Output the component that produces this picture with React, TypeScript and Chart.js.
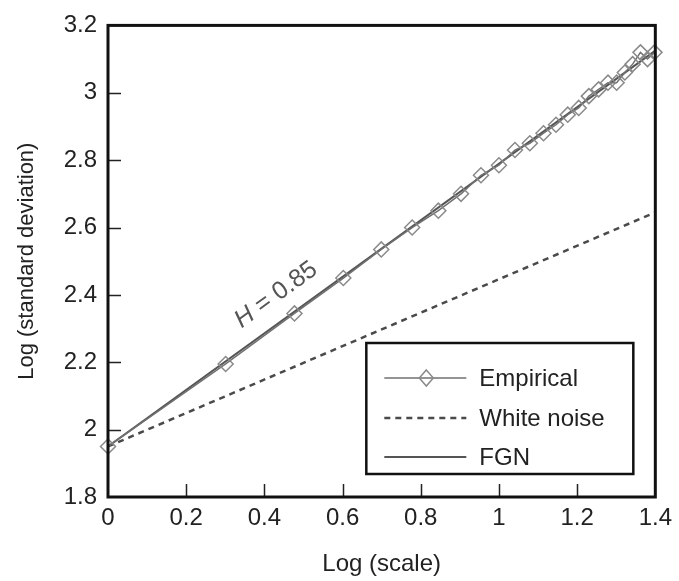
import React, { useEffect, useRef } from "react";
import { Chart, registerables } from "chart.js";

Chart.register(...registerables);

// Data
const empiricalX = [0, 0.301, 0.477, 0.602, 0.699, 0.778, 0.845, 0.903, 0.954, 1.0, 1.041, 1.079, 1.114, 1.146, 1.176, 1.204, 1.23, 1.255, 1.279, 1.301, 1.322, 1.342, 1.362, 1.38, 1.398];
const empiricalY = [1.95, 2.195, 2.345, 2.45, 2.535, 2.6, 2.65, 2.7, 2.755, 2.785, 2.83, 2.85, 2.88, 2.905, 2.935, 2.955, 2.99, 3.01, 3.03, 3.03, 3.06, 3.085, 3.12, 3.1, 3.12];
const lineX = [0, 1.4];
const whiteNoiseY = [1.95, 2.645];
const fgnY = [1.95, 3.125];
const xTicks = [0, 0.2, 0.4, 0.6, 0.8, 1, 1.2, 1.4];
const xTickLabels = ["0", "0.2", "0.4", "0.6", "0.8", "1", "1.2", "1.4"];
const yTicks = [1.8, 2, 2.2, 2.4, 2.6, 2.8, 3, 3.2];
const yTickLabels = ["1.8", "2", "2.2", "2.4", "2.6", "2.8", "3", "3.2"];
const seriesNames = ["Empirical", "White noise", "FGN"];
const annotationText = ["H", " = 0.85"];
const annotationPos = { x: 0.43, y: 2.4 };

const FONT = "'Liberation Sans', Arial, Helvetica, sans-serif";
const FS = 24;

const framePlugin = {
  id: "framePlugin",
  afterDraw(chart: any) {
    const { ctx, chartArea: a, scales } = chart;
    const xs = scales.x;
    const ys = scales.y;
    ctx.save();
    // inward ticks
    ctx.strokeStyle = "#222";
    ctx.lineWidth = 1.5;
    ctx.beginPath();
    yTicks.slice(1, -1).forEach((v) => {
      const py = Math.round(ys.getPixelForValue(v)) + 0.5;
      ctx.moveTo(a.left, py);
      ctx.lineTo(a.left + 13, py);
    });
    xTicks.slice(1, -1).forEach((v) => {
      const px = Math.round(xs.getPixelForValue(v)) + 0.5;
      ctx.moveTo(px, a.bottom);
      ctx.lineTo(px, a.bottom - 13);
    });
    ctx.stroke();
    // frame
    ctx.strokeStyle = "#111";
    ctx.lineWidth = 3;
    ctx.strokeRect(a.left, a.top, a.right - a.left, a.bottom - a.top);

    // annotation H = 0.85
    const x0 = xs.getPixelForValue(lineX[0]);
    const x1 = xs.getPixelForValue(lineX[1]);
    const y0 = ys.getPixelForValue(fgnY[0]);
    const y1 = ys.getPixelForValue(fgnY[1]);
    const ang = Math.atan2(y1 - y0, x1 - x0);
    const cx = xs.getPixelForValue(annotationPos.x);
    const cy = ys.getPixelForValue(annotationPos.y);
    ctx.translate(cx, cy);
    ctx.rotate(ang);
    ctx.fillStyle = "#555";
    ctx.textBaseline = "middle";
    ctx.textAlign = "left";
    const fItal = `italic 25px ${FONT}`;
    const fNorm = `25px ${FONT}`;
    ctx.font = fItal;
    const w1 = ctx.measureText(annotationText[0]).width;
    ctx.font = fNorm;
    const w2 = ctx.measureText(annotationText[1]).width;
    const start = -(w1 + w2) / 2;
    ctx.font = fItal;
    ctx.fillText(annotationText[0], start, 0);
    ctx.font = fNorm;
    ctx.fillText(annotationText[1], start + w1, 0);
    ctx.restore();

    // legend
    ctx.save();
    const lx = a.right - 289;
    const ly = a.bottom - 154;
    const lw = 267;
    const lh = 131;
    ctx.fillStyle = "#fff";
    ctx.fillRect(lx, ly, lw, lh);
    ctx.strokeStyle = "#111";
    ctx.lineWidth = 2.5;
    ctx.strokeRect(lx, ly, lw, lh);
    const rows = [35, 75, 114];
    const ds = chart.data.datasets;
    rows.forEach((ry, i) => {
      const d = ds[i];
      const yy = ly + ry;
      ctx.strokeStyle = d.borderColor;
      ctx.lineWidth = d.borderWidth;
      ctx.setLineDash(d.borderDash || []);
      ctx.beginPath();
      ctx.moveTo(lx + 18, yy);
      ctx.lineTo(lx + 100, yy);
      ctx.stroke();
      ctx.setLineDash([]);
      if (i === 0) {
        const mx = lx + 60;
        const r = 7;
        ctx.strokeStyle = d.pointBorderColor;
        ctx.lineWidth = d.pointBorderWidth;
        ctx.beginPath();
        ctx.moveTo(mx, yy - r - 1);
        ctx.lineTo(mx + r, yy);
        ctx.lineTo(mx, yy + r + 1);
        ctx.lineTo(mx - r, yy);
        ctx.closePath();
        ctx.stroke();
      }
      ctx.fillStyle = "#222";
      ctx.font = `${FS}px ${FONT}`;
      ctx.textBaseline = "middle";
      ctx.textAlign = "left";
      ctx.fillText(seriesNames[i], lx + 113, yy + 1);
    });
    ctx.restore();
  },
};

export default function App() {
  const ref = useRef<HTMLCanvasElement>(null);
  useEffect(() => {
    if (!ref.current) return;
    const chart = new Chart(ref.current, {
      type: "scatter",
      data: {
        datasets: [
          {
            label: seriesNames[0],
            data: empiricalX.map((x, i) => ({ x, y: empiricalY[i] })),
            showLine: true,
            borderColor: "#707070",
            borderWidth: 1.5,
            pointStyle: "rectRot",
            pointRadius: 7.5,
            pointBorderColor: "#8a8a8a",
            pointBorderWidth: 1.5,
            pointBackgroundColor: "rgba(255,255,255,0)",
            clip: false,
          } as any,
          {
            label: seriesNames[1],
            data: lineX.map((x, i) => ({ x, y: whiteNoiseY[i] })),
            showLine: true,
            borderColor: "#4a4a4a",
            borderWidth: 2.5,
            borderDash: [6, 5],
            pointRadius: 0,
          } as any,
          {
            label: seriesNames[2],
            data: lineX.map((x, i) => ({ x, y: fgnY[i] })),
            showLine: true,
            borderColor: "#555",
            borderWidth: 2,
            pointRadius: 0,
          } as any,
        ],
      },
      options: {
        responsive: false,
        animation: false,
        devicePixelRatio: 1,
        layout: { padding: { left: 0, right: 20, top: 19, bottom: 0 } },
        plugins: { legend: { display: false }, tooltip: { enabled: false } },
        scales: {
          x: {
            type: "linear",
            min: 0,
            max: 1.4,
            grid: { display: false, drawTicks: false },
            border: { display: false },
            afterBuildTicks: (s: any) => {
              s.ticks = xTicks.map((v) => ({ value: v }));
            },
            afterFit: (s: any) => {
              s.height = 84;
            },
            ticks: {
              padding: 7,
              color: "#222",
              font: { family: FONT, size: FS },
              maxRotation: 0,
              callback: (v: any) => xTickLabels[xTicks.indexOf(Number(v))] ?? String(v),
            },
            title: {
              display: true,
              text: "Log (scale)",
              color: "#222",
              font: { family: FONT, size: FS },
              padding: { top: 0, bottom: 2 },
            },
          },
          y: {
            type: "linear",
            min: 1.8,
            max: 3.2,
            grid: { display: false, drawTicks: false },
            border: { display: false },
            afterBuildTicks: (s: any) => {
              s.ticks = yTicks.map((v) => ({ value: v }));
            },
            afterFit: (s: any) => {
              s.width = 108;
            },
            ticks: {
              padding: 11,
              color: "#222",
              font: { family: FONT, size: FS },
              callback: (v: any) => yTickLabels[yTicks.indexOf(Number(v))] ?? String(v),
            },
            title: {
              display: true,
              text: "Log (standard deviation)",
              color: "#222",
              font: { family: FONT, size: 22 },
              padding: { top: 14, bottom: 0 },
            },
          },
        },
      },
      plugins: [framePlugin],
    } as any);
    return () => chart.destroy();
  }, []);
  return (
    <div style={{ position: "fixed", left: 0, top: 0, width: 679, height: 581, background: "#fff" }}>
      <canvas ref={ref} width={679} height={581} style={{ display: "block", width: 679, height: 581 }} />
    </div>
  );
}
